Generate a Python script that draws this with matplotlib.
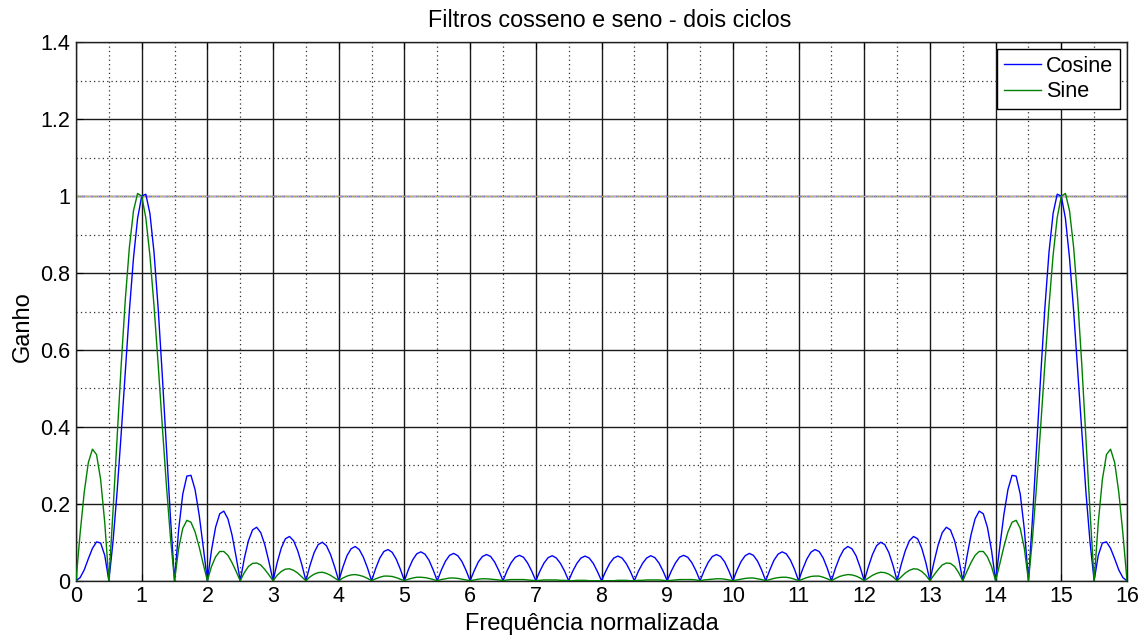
import matplotlib
matplotlib.use("Agg")
import matplotlib.pyplot as plt
import numpy as np
from matplotlib.ticker import MultipleLocator, FormatStrFormatter

# Gain of the two-cycle cosine and sine filters, sampled every 1/16 of
# normalized frequency (one row per unit of frequency, 0 .. 16)
cosine_gain = [
    0.000, 0.008, 0.028, 0.057, 0.084, 0.101, 0.098, 0.066, 0.000, 0.100, 0.230, 0.382, 0.544, 0.702, 0.839, 0.942,
    1.000, 1.005, 0.955, 0.854, 0.710, 0.537, 0.350, 0.165, 0.000, 0.133, 0.225, 0.272, 0.274, 0.237, 0.171, 0.087,
    0.000, 0.079, 0.139, 0.174, 0.181, 0.161, 0.119, 0.062, 0.000, 0.058, 0.104, 0.132, 0.139, 0.125, 0.093, 0.049,
    0.000, 0.047, 0.085, 0.109, 0.115, 0.104, 0.078, 0.042, 0.000, 0.040, 0.073, 0.094, 0.100, 0.091, 0.068, 0.036,
    0.000, 0.035, 0.065, 0.083, 0.089, 0.081, 0.061, 0.033, 0.000, 0.032, 0.059, 0.076, 0.081, 0.074, 0.056, 0.030,
    0.000, 0.030, 0.054, 0.070, 0.075, 0.069, 0.053, 0.028, 0.000, 0.028, 0.051, 0.066, 0.071, 0.065, 0.050, 0.027,
    0.000, 0.026, 0.049, 0.063, 0.068, 0.063, 0.048, 0.026, 0.000, 0.026, 0.047, 0.061, 0.066, 0.061, 0.046, 0.025,
    0.000, 0.025, 0.046, 0.060, 0.065, 0.059, 0.045, 0.025, 0.000, 0.025, 0.045, 0.059, 0.064, 0.059, 0.045, 0.024,
    0.000, 0.024, 0.045, 0.059, 0.064, 0.059, 0.045, 0.025, 0.000, 0.025, 0.045, 0.059, 0.065, 0.060, 0.046, 0.025,
    0.000, 0.025, 0.046, 0.061, 0.066, 0.061, 0.047, 0.026, 0.000, 0.026, 0.048, 0.063, 0.068, 0.063, 0.049, 0.026,
    0.000, 0.027, 0.050, 0.065, 0.071, 0.066, 0.051, 0.028, 0.000, 0.028, 0.053, 0.069, 0.075, 0.070, 0.054, 0.030,
    0.000, 0.030, 0.056, 0.074, 0.081, 0.076, 0.059, 0.032, 0.000, 0.033, 0.061, 0.081, 0.089, 0.083, 0.065, 0.035,
    0.000, 0.036, 0.068, 0.091, 0.100, 0.094, 0.073, 0.040, 0.000, 0.042, 0.078, 0.104, 0.115, 0.109, 0.085, 0.047,
    0.000, 0.049, 0.093, 0.125, 0.139, 0.132, 0.104, 0.058, 0.000, 0.062, 0.119, 0.161, 0.181, 0.174, 0.139, 0.079,
    0.000, 0.087, 0.171, 0.237, 0.274, 0.272, 0.225, 0.133, 0.000, 0.165, 0.350, 0.537, 0.710, 0.854, 0.955, 1.005,
    1.000, 0.942, 0.839, 0.702, 0.544, 0.382, 0.230, 0.100, 0.000, 0.066, 0.098, 0.101, 0.084, 0.057, 0.028, 0.008,
    0.000,
]

sine_gain = [
    0.000, 0.123, 0.230, 0.307, 0.342, 0.328, 0.263, 0.151, 0.000, 0.179, 0.371, 0.560, 0.730, 0.867, 0.962, 1.007,
    1.000, 0.944, 0.846, 0.715, 0.564, 0.405, 0.251, 0.113, 0.000, 0.084, 0.136, 0.157, 0.152, 0.127, 0.088, 0.043,
    0.000, 0.037, 0.062, 0.076, 0.076, 0.066, 0.047, 0.024, 0.000, 0.021, 0.037, 0.045, 0.046, 0.041, 0.029, 0.015,
    0.000, 0.014, 0.024, 0.030, 0.031, 0.027, 0.020, 0.010, 0.000, 0.010, 0.017, 0.021, 0.022, 0.019, 0.014, 0.007,
    0.000, 0.007, 0.012, 0.015, 0.016, 0.014, 0.011, 0.006, 0.000, 0.005, 0.009, 0.012, 0.012, 0.011, 0.008, 0.004,
    0.000, 0.004, 0.007, 0.009, 0.009, 0.008, 0.006, 0.003, 0.000, 0.003, 0.005, 0.007, 0.007, 0.006, 0.004, 0.002,
    0.000, 0.002, 0.004, 0.005, 0.005, 0.004, 0.003, 0.002, 0.000, 0.002, 0.003, 0.003, 0.003, 0.003, 0.002, 0.001,
    0.000, 0.001, 0.002, 0.002, 0.002, 0.002, 0.001, 0.001, 0.000, 0.000, 0.001, 0.001, 0.001, 0.000, 0.000, 0.000,
    0.000, 0.000, 0.000, 0.000, 0.001, 0.001, 0.001, 0.000, 0.000, 0.001, 0.001, 0.002, 0.002, 0.002, 0.002, 0.001,
    0.000, 0.001, 0.002, 0.003, 0.003, 0.003, 0.003, 0.002, 0.000, 0.002, 0.003, 0.004, 0.005, 0.005, 0.004, 0.002,
    0.000, 0.002, 0.004, 0.006, 0.007, 0.007, 0.005, 0.003, 0.000, 0.003, 0.006, 0.008, 0.009, 0.009, 0.007, 0.004,
    0.000, 0.004, 0.008, 0.011, 0.012, 0.012, 0.009, 0.005, 0.000, 0.006, 0.011, 0.014, 0.016, 0.015, 0.012, 0.007,
    0.000, 0.007, 0.014, 0.019, 0.022, 0.021, 0.017, 0.010, 0.000, 0.010, 0.020, 0.027, 0.031, 0.030, 0.024, 0.014,
    0.000, 0.015, 0.029, 0.041, 0.046, 0.045, 0.037, 0.021, 0.000, 0.024, 0.047, 0.066, 0.076, 0.076, 0.062, 0.037,
    0.000, 0.043, 0.088, 0.127, 0.152, 0.157, 0.136, 0.084, 0.000, 0.113, 0.251, 0.405, 0.564, 0.715, 0.846, 0.944,
    1.000, 1.007, 0.962, 0.867, 0.730, 0.560, 0.371, 0.179, 0.000, 0.151, 0.263, 0.328, 0.342, 0.307, 0.230, 0.123,
    0.000,
]

freq = np.linspace(0, 16, len(cosine_gain))

title = "Filtros cosseno e seno - dois ciclos"
xlabel = "Frequência normalizada"
ylabel = "Ganho"

plt.rcParams["font.family"] = ["Liberation Sans", "DejaVu Sans"]

fig = plt.figure(figsize=(11.43, 6.38), dpi=100)
ax = fig.add_axes([0.0665, 0.0898, 0.9195, 0.8439])

ax.plot(freq, cosine_gain, color=(0, 0, 1), lw=1.0, label="Cosine", zorder=3)
ax.plot(freq, sine_gain, color=(0, 0.5, 0), lw=1.0, label="Sine", zorder=3)

# reference level at unit gain, drawn as a speckled multicolour line
for i, c in enumerate(["#f0b060", "#7890f0", "#e890d8", "#88cc88"]):
    ax.axhline(1.0, color=c, lw=1.0, ls=(i * 1.5, (1.5, 4.5)), zorder=2.5)

ax.set_xlim(0, 16)
ax.set_ylim(0, 1.4)
ax.xaxis.set_major_locator(MultipleLocator(1))
ax.xaxis.set_minor_locator(MultipleLocator(0.5))
ax.yaxis.set_major_locator(MultipleLocator(0.2))
ax.yaxis.set_minor_locator(MultipleLocator(0.1))
ax.yaxis.set_major_formatter(FormatStrFormatter("%g"))

ax.grid(which="major", color="#1a1a1a", lw=1.0, ls="-", zorder=1)
ax.grid(which="minor", color="#303030", lw=0.9, ls=(0, (1, 2.5)), zorder=1)
ax.set_axisbelow(True)

ax.tick_params(which="major", direction="in", length=5, top=True, right=True,
               labelsize=15.5, pad=4, colors="black")
ax.tick_params(which="minor", length=0)
for sp in ax.spines.values():
    sp.set_color("#202020")
    sp.set_linewidth(1.0)

ax.set_title(title, fontsize=16.8, x=0.5076, y=1.029, pad=0)
ax.set_xlabel(xlabel, fontsize=17)
ax.xaxis.set_label_coords(0.4906, -0.060)
ax.set_ylabel(ylabel, fontsize=17)
ax.yaxis.set_label_coords(-0.040, 0.471)

leg = ax.legend(loc="upper right", fontsize=15.6, fancybox=False, framealpha=1,
                edgecolor="black", handlelength=1.7, handletextpad=0.25,
                labelspacing=0.22, borderpad=0.32, borderaxespad=0.3)
leg.get_frame().set_linewidth(1.0)

fig.savefig("out.png", dpi=100)
